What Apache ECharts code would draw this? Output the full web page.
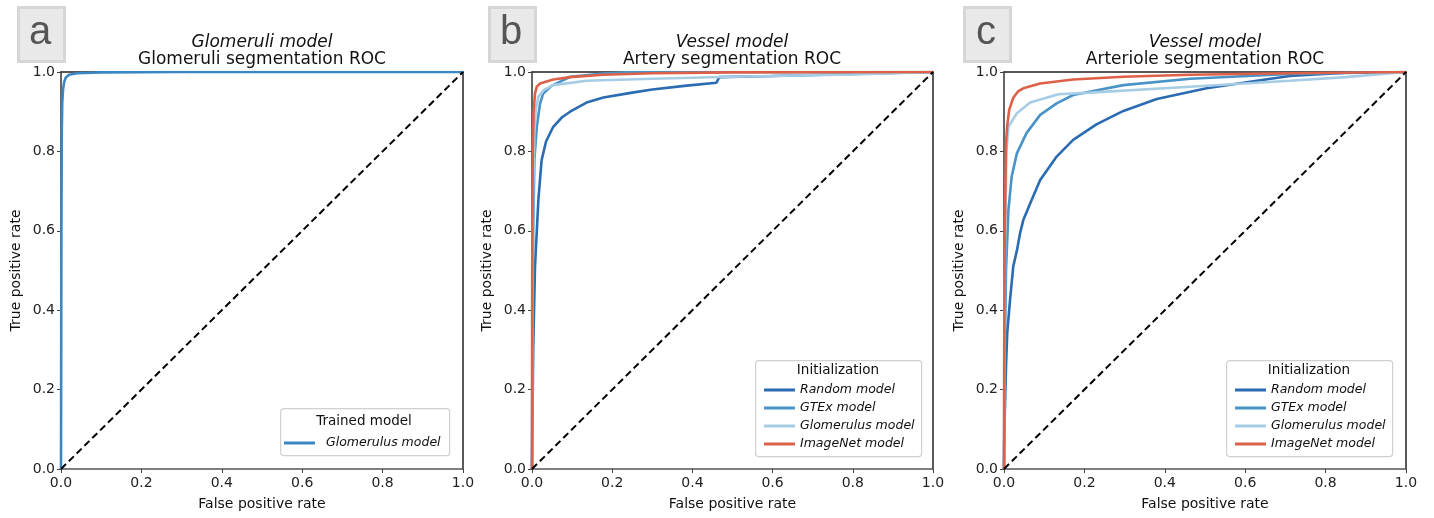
<!DOCTYPE html>
<html><head><meta charset="utf-8">
<script src="https://cdn.jsdelivr.net/npm/echarts@6/dist/echarts.min.js"></script>
<style>html,body{margin:0;padding:0;background:#fff}#c{width:1434px;height:518px}</style>
</head><body><div id="c"></div>
<script>
// ---- data ----
const axisTicks = [0, 0.2, 0.4, 0.6, 0.8, 1.0];
const seriesNames = ['Random model', 'GTEx model', 'Glomerulus model', 'ImageNet model'];

// panel a: Glomeruli model
const aGlomFpr = [0, 0.0005, 0.001, 0.002, 0.003, 0.005, 0.008, 0.012, 0.02, 0.04, 0.1, 0.3, 1];
const aGlomTpr = [0, 0.3, 0.6, 0.85, 0.92, 0.955, 0.975, 0.986, 0.993, 0.997, 0.999, 1, 1];

// panel b: Artery segmentation
const bRandFpr = [0, 0.001, 0.003, 0.0075, 0.016, 0.024, 0.035, 0.053, 0.075, 0.095, 0.136, 0.178, 0.25, 0.30, 0.38, 0.46, 0.467, 0.6, 0.8, 1];
const bRandTpr = [0, 0.1, 0.3, 0.51, 0.68, 0.778, 0.825, 0.862, 0.886, 0.90, 0.923, 0.936, 0.948, 0.956, 0.965, 0.973, 0.987, 0.99, 0.995, 1];
const bGtexFpr = [0, 0.001, 0.003, 0.006, 0.012, 0.02, 0.028, 0.049, 0.095, 0.178, 0.25, 1];
const bGtexTpr = [0, 0.3, 0.6, 0.78, 0.862, 0.92, 0.946, 0.965, 0.988, 0.996, 1, 1];
const bGlomFpr = [0, 0.001, 0.003, 0.006, 0.01, 0.016, 0.03, 0.053, 0.136, 0.3, 0.5, 0.8, 1];
const bGlomTpr = [0, 0.4, 0.7, 0.85, 0.91, 0.938, 0.955, 0.967, 0.978, 0.983, 0.988, 0.994, 1];
const bImgFpr = [0, 0.0005, 0.002, 0.004, 0.0075, 0.012, 0.02, 0.053, 0.095, 0.178, 0.30, 0.5, 1];
const bImgTpr = [0, 0.5, 0.8, 0.9, 0.946, 0.963, 0.971, 0.981, 0.987, 0.993, 0.997, 0.999, 1];

// panel c: Arteriole segmentation
const cRandFpr = [0, 0.001, 0.005, 0.008, 0.015, 0.023, 0.032, 0.040, 0.048, 0.069, 0.09, 0.131, 0.172, 0.23, 0.297, 0.38, 0.504, 0.629, 0.711, 0.85, 1];
const cRandTpr = [0, 0.1, 0.258, 0.342, 0.426, 0.51, 0.55, 0.594, 0.627, 0.678, 0.728, 0.787, 0.829, 0.868, 0.902, 0.932, 0.959, 0.978, 0.99, 0.998, 1];
const cGtexFpr = [0, 0.002, 0.005, 0.011, 0.019, 0.032, 0.056, 0.09, 0.131, 0.172, 0.297, 0.463, 0.71, 1];
const cGtexTpr = [0, 0.3, 0.5, 0.652, 0.736, 0.795, 0.846, 0.892, 0.921, 0.942, 0.967, 0.983, 0.995, 1];
const cGlomFpr = [0, 0.001, 0.003, 0.006, 0.011, 0.032, 0.065, 0.135, 0.214, 0.463, 0.711, 0.85, 1];
const cGlomTpr = [0, 0.3, 0.6, 0.8, 0.862, 0.896, 0.923, 0.944, 0.948, 0.963, 0.978, 0.987, 1];
const cImgFpr = [0, 0.0005, 0.002, 0.005, 0.008, 0.013, 0.023, 0.035, 0.048, 0.09, 0.172, 0.297, 0.463, 0.71, 1];
const cImgTpr = [0, 0.3, 0.6, 0.82, 0.865, 0.905, 0.935, 0.951, 0.959, 0.971, 0.981, 0.988, 0.993, 0.997, 1];

const chanceFpr = [0, 1];
const chanceTpr = [0, 1];

// ---- styling ----
const FONT = "'DejaVu Sans', sans-serif";
const LETTER_FONT = "'Liberation Sans', Arial, sans-serif";
const colors = ['#2a6bb1', '#4a93c8', '#a6cde5', '#dd6048'];
const colorA = '#3a87c4';
const grids = [
  {left: 61, top: 72, width: 402, height: 397},
  {left: 532, top: 72, width: 401, height: 397},
  {left: 1004, top: 72, width: 402, height: 397}
];
const pairs = (xs, ys) => xs.map((x, i) => [x, ys[i]]);

function xAxis(i) {
  return {
    type: 'value', gridIndex: i, min: 0, max: 1, interval: 0.2,
    name: 'False positive rate', nameLocation: 'middle', nameGap: 28,
    nameTextStyle: {fontFamily: FONT, fontSize: 14, color: '#111'},
    axisLine: {show: true, onZero: false, lineStyle: {color: '#555', width: 1.5}},
    axisTick: {show: true, length: 4, lineStyle: {color: '#444', width: 1}},
    axisLabel: {fontFamily: FONT, fontSize: 14, color: '#222', margin: 7, formatter: v => v.toFixed(1)},
    splitLine: {show: false}
  };
}
function yAxis(i) {
  return {
    type: 'value', gridIndex: i, min: 0, max: 1, interval: 0.2,
    name: 'True positive rate', nameLocation: 'middle', nameGap: 38,
    nameTextStyle: {fontFamily: FONT, fontSize: 14, color: '#111'},
    axisLine: {show: true, onZero: false, lineStyle: {color: '#333', width: 1.5}},
    axisTick: {show: true, length: 4, lineStyle: {color: '#444', width: 1}},
    axisLabel: {fontFamily: FONT, fontSize: 14, color: '#222', margin: 6, formatter: v => v.toFixed(1)},
    splitLine: {show: false}
  };
}
function xTop(i) {
  return {type: 'value', gridIndex: i, min: 0, max: 1, position: 'top',
    axisLine: {show: true, onZero: false, lineStyle: {color: '#222', width: 1.5}},
    axisTick: {show: false}, axisLabel: {show: false}, splitLine: {show: false}};
}
function yRight(i) {
  return {type: 'value', gridIndex: i, min: 0, max: 1, position: 'right',
    axisLine: {show: true, onZero: false, lineStyle: {color: '#222', width: 1.5}},
    axisTick: {show: false}, axisLabel: {show: false}, splitLine: {show: false}};
}

function curve(name, gi, xs, ys, color) {
  return {
    type: 'line', name: name, xAxisIndex: gi * 2, yAxisIndex: gi * 2,
    data: pairs(xs, ys), symbol: 'none', smooth: false,
    lineStyle: {color: color, width: 2.6}, itemStyle: {color: color},
    emphasis: {disabled: true}, animation: false
  };
}
function chance(gi) {
  return {
    type: 'line', name: 'chance', xAxisIndex: gi * 2, yAxisIndex: gi * 2,
    data: pairs(chanceFpr, chanceTpr), symbol: 'none', z: 5,
    lineStyle: {color: '#000', width: 2, type: [7, 4]}, animation: false
  };
}

const xAxes = [], yAxes = [];
for (let i = 0; i < 3; i++) { xAxes.push(xAxis(i), xTop(i)); yAxes.push(yAxis(i), yRight(i)); }

const series = [
  curve('Glomerulus model', 0, aGlomFpr, aGlomTpr, colorA),
  chance(0),
  curve('Random model', 1, bRandFpr, bRandTpr, colors[0]),
  curve('GTEx model', 1, bGtexFpr, bGtexTpr, colors[1]),
  curve('Glomerulus model', 1, bGlomFpr, bGlomTpr, colors[2]),
  curve('ImageNet model', 1, bImgFpr, bImgTpr, colors[3]),
  chance(1),
  curve('Random model', 2, cRandFpr, cRandTpr, colors[0]),
  curve('GTEx model', 2, cGtexFpr, cGtexTpr, colors[1]),
  curve('Glomerulus model', 2, cGlomFpr, cGlomTpr, colors[2]),
  curve('ImageNet model', 2, cImgFpr, cImgTpr, colors[3]),
  chance(2)
];

const legTextStyle = {fontFamily: FONT, fontSize: 12.5, fontStyle: 'italic', color: '#111', lineHeight: 14};
function legendBlock(left, top, names, cols, textPad) {
  return {
    orient: 'vertical', left: left, top: top, icon: 'rect', itemWidth: 31, itemHeight: 3,
    itemGap: 4, padding: 0, selectedMode: false, z: 20,
    textStyle: Object.assign({}, legTextStyle, {padding: [0, 0, 0, textPad]}),
    data: names.map((n, k) => ({name: n, itemStyle: {color: cols[k]}}))
  };
}

function panelGraphics(cx, boxX, letter) {
  return [
    {type: 'rect', left: boxX, top: 6, shape: {width: 46, height: 54},
     style: {fill: '#e9e9e9', stroke: '#d6d6d6', lineWidth: 3}, z: 10},
    {type: 'text', x: boxX + 23, y: 33, style: {text: letter, font: "40px " + LETTER_FONT, fill: '#555',
     textAlign: 'center', textVerticalAlign: 'middle'}, z: 11},
    {type: 'text', x: cx, y: 43, style: {text: letter === 'a' ? 'Glomeruli model' : 'Vessel model',
     font: "italic 17px " + FONT, fill: '#111', textAlign: 'center', textVerticalAlign: 'middle'}, z: 11}
  ];
}
function titleLine(cx, txt) {
  return {type: 'text', x: cx, y: 60, style: {text: txt, font: "17px " + FONT, fill: '#111',
    textAlign: 'center', textVerticalAlign: 'middle'}, z: 11};
}
function legendBox(x, y, w, h, title, tx, ty) {
  return [
    {type: 'rect', left: x, top: y, shape: {width: w, height: h, r: 3},
     style: {fill: '#fff', stroke: '#d0d0d0', lineWidth: 1.2}, z: 15},
    {type: 'text', x: tx, y: ty, style: {text: title, font: "13.5px " + FONT, fill: '#111',
     textAlign: 'center', textVerticalAlign: 'middle'}, z: 16}
  ];
}

const graphic = [].concat(
  panelGraphics(262, 17, 'a'), [titleLine(262, 'Glomeruli segmentation ROC')],
  panelGraphics(732, 488, 'b'), [titleLine(732, 'Artery segmentation ROC')],
  panelGraphics(1205, 963, 'c'), [titleLine(1205, 'Arteriole segmentation ROC')],
  legendBox(280, 408, 169, 47, 'Trained model', 364, 421),
  legendBox(755, 360, 166, 96, 'Initialization', 838, 370),
  legendBox(1226, 360, 166, 96, 'Initialization', 1309, 370)
);

const chart = echarts.init(document.getElementById('c'), null, {renderer: 'canvas'});
chart.setOption({
  animation: false,
  backgroundColor: '#fff',
  textStyle: {fontFamily: FONT},
  grid: grids,
  xAxis: xAxes,
  yAxis: yAxes,
  legend: [
    legendBlock(284, 436, ['Glomerulus model'], [colorA], 6),
    legendBlock(764, 383, seriesNames, colors, 0),
    legendBlock(1235, 383, seriesNames, colors, 0)
  ],
  graphic: graphic,
  series: series
});
</script></body></html>
